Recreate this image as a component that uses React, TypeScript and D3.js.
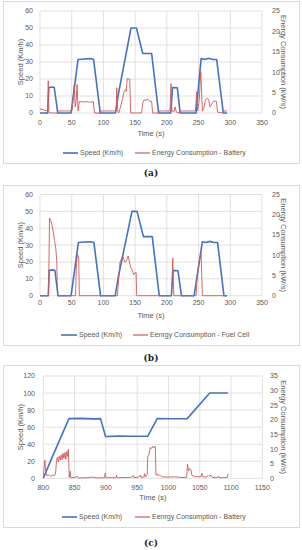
import React, { useEffect, useRef } from "react";
import * as d3 from "d3";

// [time (s), value] pairs
const speedA: [number, number][] = [
  [0, 0], [12, 0], [14, 15], [20, 15.3], [22.5, 15], [28, 0], [49, 0], [60, 31.5], [70, 31.8],
  [80, 32], [84.5, 31.5], [95, 0], [119, 0], [124, 12], [143.5, 50], [152, 50], [162, 35],
  [176, 35], [187, 0], [206, 0], [209, 15], [216.5, 14.8], [221, 0], [246, 0], [254, 32],
  [260, 31.5], [266, 32.2], [272, 31.5], [278.5, 31.5], [289, 0], [295, 0],
];
const energyA: [number, number][] = [
  [0, 1], [5, 0.8], [10, 0.6], [12, 0.6], [13, 7.9], [14, 0.3], [15, 0], [27, 0], [28, 0.5],
  [50, 0.5], [52, 3], [54, 6.9], [55.5, 1.5], [57, 3], [58.5, 7], [60, 0.5], [62, 2.8], [70, 2.7],
  [75, 2.8], [80, 2.6], [84, 2.8], [86, 0], [95, 0], [96, 0.5], [120, 0.5], [121, 6.2],
  [122.5, 0.5], [124, 0], [127, 1.5], [130, 3.5], [133, 5.5], [135, 5.8], [136, 5.3],
  [137.5, 8.4], [141.5, 8.3], [143, 0], [160, 0], [162, 2.5], [164, 3.2], [167, 3.1], [170, 3.4],
  [173, 2.9], [176, 2.9], [177.5, 0], [187, 0], [188, 0.5], [205, 0.5], [206.5, 7.2], [208, 0.5],
  [211, 0.3], [213, 1.5], [215, 0.2], [221, 0], [222, 0.5], [245, 0.5], [247, 5.2], [248.5, 0.5],
  [251, 3], [253.5, 10.2], [256, 0.5], [258, 1], [261, 3.3], [264, 3.6], [266, 3.2], [268, 1.5],
  [271, 2.3], [274, 2.9], [278, 2.9], [280, 0.2], [289, 0], [290, 0.5], [295, 0.5],
];

const speedB: [number, number][] = [
  [0, 0], [13, 0], [14.5, 15], [21, 15.3], [23.5, 15], [28.5, 0], [49, 0], [60.5, 31.5],
  [70, 31.8], [80, 32], [85, 31.5], [95.5, 0], [118.5, 0], [124, 12], [145, 50], [153, 50],
  [163, 35], [177, 35], [188, 0], [207, 0], [210, 15], [217.5, 14.8], [223, 0], [243, 0],
  [256, 32], [262, 31.5], [268, 32.2], [274, 31.5], [280, 31.5], [290, 0], [295, 0],
];
const energyB: [number, number][] = [
  [0, 0], [13.5, 0], [15, 19.2], [17, 18.6], [19, 17.4], [21, 15.6], [23, 13.6], [25, 11.5],
  [26.5, 8.5], [27.5, 0], [56, 0], [57.5, 8], [59, 10.2], [61, 9.5], [62, 0], [122, 0],
  [126, 8.2], [130, 9.8], [134, 8.2], [136, 8.5], [139, 9.8], [141, 8.4], [143, 7], [146, 6],
  [148, 5.2], [150, 5.7], [151.5, 5.7], [152.5, 0], [207.5, 0], [209.3, 9.3], [211, 0],
  [246, 0], [248, 5.2], [251, 8.5], [254, 10.5], [256, 0], [295, 0],
];

const speedC: [number, number][] = [
  [800, 0], [812, 21], [841, 70], [860, 70.3], [880, 69.7], [891.5, 70], [899.5, 49], [920, 49.5],
  [940, 49.3], [967, 49.5], [982, 70], [1000, 69.8], [1030, 70], [1066, 100], [1095, 100],
];
const energyC: [number, number][] = [
  [800, 0], [801, 3], [802.5, 6.2], [804, 2], [806, 0.8], [809, 1.2], [812, 0.7], [815, 1.1],
  [818, 1], [819.5, 1.5], [821, 5.8], [822.5, 7.2], [824, 5.6], [825.5, 7.6], [827, 6.2],
  [828.5, 8], [830, 6.4], [831.5, 8.6], [833, 6.8], [834.5, 8.8], [836, 6.5], [837.5, 9.2],
  [839, 7.5], [840, 9.9], [841.5, 0.3], [843, 2.4], [844, 0.2], [850, 0.3], [855, 0.6],
  [856, 0.1], [870, 0.2], [880, 0.4], [885, 0.1], [898, 0.2], [899, 1.8], [900, 0.2], [916, 0.2],
  [917, 1], [918, 0.2], [940, 0.3], [944, 0.9], [945, 0.2], [952, 0.4], [955, 1.1], [956, 0.3],
  [961, 0.5], [962, 1.6], [963, 0.4], [966, 1.2], [967, 7.5], [969, 8.3], [971, 10.5],
  [973, 10.2], [975, 11], [977, 10.4], [979, 10.9], [980, 1.2], [982, 1.5], [984, 0.8],
  [986, 1.1], [990, 0.5], [1000, 0.4], [1010, 0.5], [1020, 0.3], [1029, 0.3], [1030.5, 4.8],
  [1032, 2.5], [1034, 3.4], [1036, 3], [1037.5, 1], [1040, 0.8], [1045, 0.5], [1052, 0.6],
  [1053.5, 1.7], [1055, 0.5], [1060, 0.4], [1064, 1], [1066, 0.6], [1068, 1.1], [1070, 0.3],
  [1078, 0.2], [1080, 0.8], [1081, 0.2], [1094, 0.3], [1095.5, 1.5],
];

const timeTicksAB = [0, 50, 100, 150, 200, 250, 300, 350];
const timeTicksC = [800, 850, 900, 950, 1000, 1050, 1100, 1150];
const speedTicksAB = [0, 10, 20, 30, 40, 50, 60];
const speedTicksC = [0, 20, 40, 60, 80, 100, 120];
const energyTicksAB = [0, 5, 10, 15, 20, 25];
const energyTicksC = [0, 5, 10, 15, 20, 25, 30, 35];

const panels = [
  {
    speed: speedA, energy: energyA, xTicks: timeTicksAB, yTicks: speedTicksAB, eTicks: energyTicksAB,
    energyName: "Energy Consumption - Battery", caption: "(a)",
    box: [3, 1, 299, 163], plot: [40, 262, 11, 113], xLab: 123, title: 133, legend: 153, cap: 173,
    leftLab: 33, rightLab: 272, leg: [63, 78, 135, 150],
  },
  {
    speed: speedB, energy: energyB, xTicks: timeTicksAB, yTicks: speedTicksAB, eTicks: energyTicksAB,
    energyName: "Eenrgy Consumption - Fuel Cell", caption: "(b)",
    box: [3, 185, 299, 345], plot: [40, 262, 194.5, 295.7], xLab: 303, title: 315, legend: 335, cap: 358,
    leftLab: 33, rightLab: 272, leg: [61, 77, 133, 148],
  },
  {
    speed: speedC, energy: energyC, xTicks: timeTicksC, yTicks: speedTicksC, eTicks: energyTicksC,
    energyName: "Eenrgy Consumption - Battery", caption: "(c)",
    box: [3, 365, 299, 527], plot: [43.3, 262.3, 376, 478.3], xLab: 487.5, title: 497, legend: 517, cap: 543,
    leftLab: 35, rightLab: 270, leg: [62, 77, 135, 150],
  },
];

const BLUE = "#4472C4";
const RED = "#D05A5A";
const GRID = "#D9D9D9";
const TEXT = "#595959";
const FONT = "'Liberation Sans', Arial, sans-serif";

export default function App() {
  const ref = useRef<SVGSVGElement>(null);

  useEffect(() => {
    const svg = d3.select(ref.current);
    svg.selectAll("*").remove();

    panels.forEach(p => {
      const [l, r, t, b] = p.plot;
      const g = svg.append("g");

      g.append("rect")
        .attr("x", p.box[0] + 0.5).attr("y", p.box[1] + 0.5)
        .attr("width", p.box[2] - p.box[0]).attr("height", p.box[3] - p.box[1])
        .attr("fill", "white").attr("stroke", GRID);

      const x = d3.scaleLinear().domain(d3.extent(p.xTicks) as [number, number]).range([l, r]);
      const y = d3.scaleLinear().domain(d3.extent(p.yTicks) as [number, number]).range([b, t]);
      const y2 = d3.scaleLinear().domain(d3.extent(p.eTicks) as [number, number]).range([b, t]);

      // gridlines
      g.selectAll(".hg").data(p.yTicks).enter().append("line")
        .attr("x1", l).attr("x2", r).attr("y1", d => y(d)).attr("y2", d => y(d))
        .attr("stroke", GRID).attr("stroke-width", 0.8);
      g.selectAll(".vg").data(p.xTicks).enter().append("line")
        .attr("y1", t).attr("y2", b).attr("x1", d => x(d)).attr("x2", d => x(d))
        .attr("stroke", GRID).attr("stroke-width", 0.8);

      const txt = (sel: any) => sel.attr("font-family", FONT).attr("font-size", 7).attr("fill", TEXT);

      g.selectAll(".yl").data(p.yTicks).enter().append("text")
        .call(txt).attr("x", p.leftLab).attr("y", d => y(d)).attr("dy", "0.35em")
        .attr("text-anchor", "end").text(d => d);
      g.selectAll(".yr").data(p.eTicks).enter().append("text")
        .call(txt).attr("x", p.rightLab).attr("y", d => y2(d)).attr("dy", "0.35em")
        .text(d => d);
      g.selectAll(".xl").data(p.xTicks).enter().append("text")
        .call(txt).attr("x", d => x(d)).attr("y", p.xLab).attr("dy", "0.35em")
        .attr("text-anchor", "middle").text(d => d);

      g.append("text").call(txt).attr("font-size", 7.5)
        .attr("transform", `translate(20,${(t + b) / 2}) rotate(-90)`)
        .attr("text-anchor", "middle").attr("dy", "0.35em").text("Speed (Km/h)");
      g.append("text").call(txt).attr("font-size", 7.5)
        .attr("transform", `translate(284,${(t + b) / 2}) rotate(90)`)
        .attr("text-anchor", "middle").attr("dy", "0.35em").text("Energy Consumption (kW/s)");
      g.append("text").call(txt).attr("font-size", 7.5)
        .attr("x", (l + r) / 2).attr("y", p.title).attr("dy", "0.35em")
        .attr("text-anchor", "middle").text("Time (s)");

      const speedLine = d3.line<[number, number]>().x(d => x(d[0])).y(d => y(d[1]));
      const energyLine = d3.line<[number, number]>().x(d => x(d[0])).y(d => y2(d[1]));

      g.append("path").datum(p.speed).attr("d", speedLine)
        .attr("fill", "none").attr("stroke", BLUE).attr("stroke-width", 1.6)
        .attr("stroke-linejoin", "round");
      g.append("path").datum(p.energy).attr("d", energyLine)
        .attr("fill", "none").attr("stroke", RED).attr("stroke-width", 0.9)
        .attr("stroke-linejoin", "round");

      // legend
      const [b0, b1, r0, r1] = p.leg;
      g.append("line").attr("x1", b0).attr("x2", b1).attr("y1", p.legend).attr("y2", p.legend)
        .attr("stroke", BLUE).attr("stroke-width", 1.6);
      g.append("text").call(txt).attr("x", b1 + 2).attr("y", p.legend).attr("dy", "0.35em")
        .text("Speed (Km/h)");
      g.append("line").attr("x1", r0).attr("x2", r1).attr("y1", p.legend).attr("y2", p.legend)
        .attr("stroke", RED).attr("stroke-width", 1.2);
      g.append("text").call(txt).attr("x", r1 + 2).attr("y", p.legend).attr("dy", "0.35em")
        .text(p.energyName);

      g.append("text").attr("x", 151).attr("y", p.cap).attr("dy", "0.35em")
        .attr("text-anchor", "middle").attr("font-family", "'DejaVu Serif', serif")
        .attr("font-weight", "bold").attr("font-size", 9).attr("fill", "#222")
        .text(p.caption);
    });
  }, []);

  return (
    <svg ref={ref} width={302} height={550}
      style={{ position: "absolute", left: 0, top: 0, background: "white" }} />
  );
}
